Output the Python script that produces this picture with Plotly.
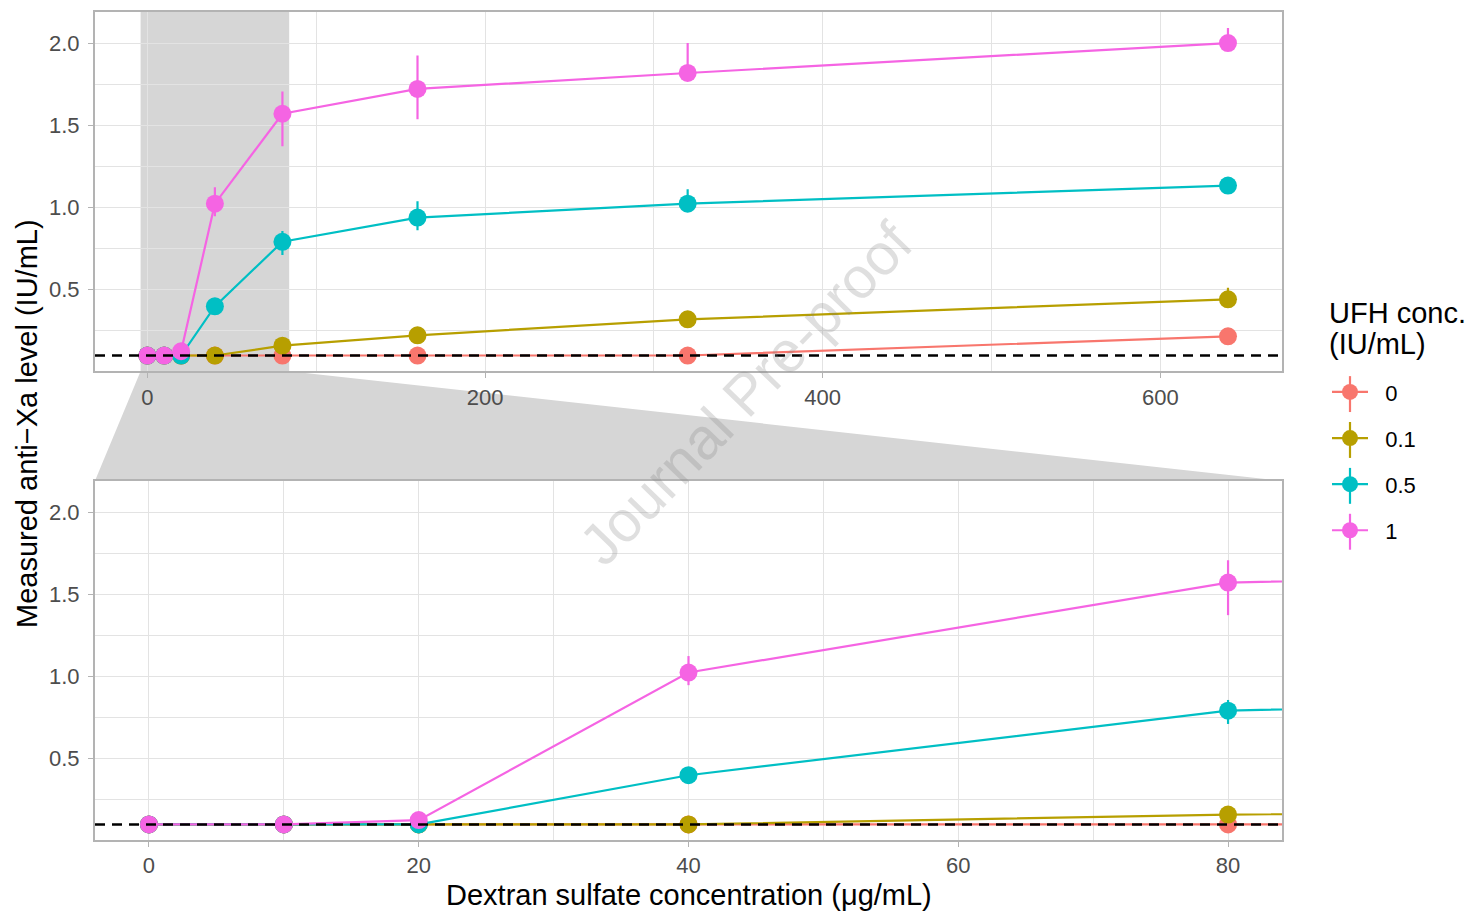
import plotly.graph_objects as go

# ---------------- data ----------------
dextran_conc = [0, 10, 20, 40, 80, 160, 320, 640]
ufh_labels = ["0", "0.1", "0.5", "1"]
ufh_colors = ["#F8766D", "#B79F00", "#00BFC4", "#F564E3"]

axa_ufh_0 = [0.10, 0.10, 0.10, 0.10, 0.10, 0.10, 0.10, 0.217]
axa_ufh_01 = [0.10, 0.10, 0.10, 0.10, 0.16, 0.223, 0.32, 0.442]
axa_ufh_05 = [0.10, 0.10, 0.10, 0.399, 0.792, 0.939, 1.024, 1.134]
axa_ufh_1 = [0.10, 0.10, 0.126, 1.024, 1.571, 1.722, 1.819, 2.001]

err_up_ufh_0 = [0, 0, 0, 0, 0, 0, 0, 0]
err_dn_ufh_0 = [0, 0, 0, 0, 0, 0, 0, 0]
err_up_ufh_01 = [0, 0, 0, 0, 0, 0, 0, 0.07]
err_dn_ufh_01 = [0, 0, 0, 0, 0, 0, 0, 0.03]
err_up_ufh_05 = [0, 0, 0, 0, 0.065, 0.10, 0.087, 0]
err_dn_ufh_05 = [0, 0, 0, 0, 0.081, 0.077, 0.03, 0]
err_up_ufh_1 = [0, 0, 0, 0.10, 0.136, 0.204, 0.182, 0.091]
err_dn_ufh_1 = [0, 0, 0, 0.077, 0.198, 0.184, 0.03, 0.03]

lod_level = 0.1  # dashed reference line

series_values = [axa_ufh_0, axa_ufh_01, axa_ufh_05, axa_ufh_1]
series_err_up = [err_up_ufh_0, err_up_ufh_01, err_up_ufh_05, err_up_ufh_1]
series_err_dn = [err_dn_ufh_0, err_dn_ufh_01, err_dn_ufh_05, err_dn_ufh_1]

top_x_ticks = [0, 200, 400, 600]
zoom_x_ticks = [0, 20, 40, 60, 80]
y_ticks = [0.5, 1.0, 1.5, 2.0]
y_tick_text = ["0.5", "1.0", "1.5", "2.0"]

# ---------------- layout constants ----------------
W, H = 1469, 912
ML, MR, MT, MB = 95, 187, 10, 72
PW, PH = W - ML - MR, H - MT - MB
TOP_X_RANGE = [-31, 672]
ZOOM_X_RANGE = [-4, 84]
Y_RANGE = [0.005, 2.19]
TOP_DOMAIN = [470 / PH, 1.0]
BOT_DOMAIN = [0.0, 360 / PH]

FONT = "Liberation Sans, Arial, sans-serif"
TICK_FONT = dict(family=FONT, size=22, color="#4D4D4D")
TITLE_SIZE = 29
GRID = "#E3E3E3"
BORDER = "#B3B3B3"
ZOOM_FILL = "#D6D6D6"
LEGEND_PAD = "\u00a0\u00a0"
LEGEND_TOP_PX = 370
LEGEND_KEY_X_PX = 1350
LEGEND_FIRST_Y_PX = 393
LEGEND_STEP_PX = 46


def px_x(px):
    return (px - ML) / PW


def px_y(py):
    return (H - MB - py) / PH


fig = go.Figure()

for panel, (xa, ya) in enumerate([("x", "y"), ("x2", "y2")]):
    for lab, col, vals, eu, ed in zip(ufh_labels, ufh_colors, series_values,
                                      series_err_up, series_err_dn):
        fig.add_trace(go.Scatter(
            x=dextran_conc, y=vals, xaxis=xa, yaxis=ya,
            mode="lines+markers", name=LEGEND_PAD + lab, legendgroup=lab,
            showlegend=(panel == 0),
            line=dict(color=col, width=2.2),
            marker=dict(color=col, size=18),
            error_y=dict(type="data", symmetric=False, array=eu, arrayminus=ed,
                         color=col, thickness=2.2, width=0),
        ))

axis_common = dict(
    showline=True, mirror=True, linecolor=BORDER, linewidth=2,
    ticks="outside", ticklen=5, tickcolor=BORDER, tickwidth=1,
    tickfont=TICK_FONT, showgrid=True, gridcolor=GRID, gridwidth=1,
    zeroline=False,
)

fig.update_layout(
    width=W, height=H,
    margin=dict(l=ML, r=MR, t=MT, b=MB),
    paper_bgcolor="white", plot_bgcolor="white",
    font=dict(family=FONT, color="black"),
    xaxis=dict(domain=[0, 1], anchor="y", range=TOP_X_RANGE,
               tickvals=top_x_ticks,
               minor=dict(dtick=100, tick0=0, showgrid=True, gridcolor=GRID, gridwidth=0.6, ticks=""),
               **axis_common),
    yaxis=dict(domain=TOP_DOMAIN, anchor="x", range=Y_RANGE,
               tickvals=y_ticks, ticktext=y_tick_text, ticklabelstandoff=4,
               minor=dict(dtick=0.25, tick0=0, showgrid=True, gridcolor=GRID, gridwidth=0.6, ticks=""),
               **axis_common),
    xaxis2=dict(domain=[0, 1], anchor="y2", range=ZOOM_X_RANGE,
                tickvals=zoom_x_ticks,
                minor=dict(dtick=10, tick0=0, showgrid=True, gridcolor=GRID, gridwidth=0.6, ticks=""),
                **axis_common),
    yaxis2=dict(domain=BOT_DOMAIN, anchor="x2", range=Y_RANGE,
                tickvals=y_ticks, ticktext=y_tick_text, ticklabelstandoff=4,
                minor=dict(dtick=0.25, tick0=0, showgrid=True, gridcolor=GRID, gridwidth=0.6, ticks=""),
                **axis_common),
    legend=dict(
        x=px_x(1327), y=px_y(LEGEND_TOP_PX), xanchor="left", yanchor="top",
        font=dict(family=FONT, size=22, color="black"),
        tracegroupgap=14.5, itemwidth=36, bgcolor="rgba(0,0,0,0)",
    ),
)

# legend title (two lines, ggplot-like tight leading)
fig.add_annotation(text="UFH conc.", xref="paper", yref="paper",
                   x=px_x(1327), y=px_y(312), xanchor="left", yanchor="middle",
                   align="left", showarrow=False,
                   font=dict(family=FONT, size=TITLE_SIZE, color="black"))
fig.add_annotation(text="(IU/mL)", xref="paper", yref="paper",
                   x=px_x(1327), y=px_y(343), xanchor="left", yanchor="middle",
                   align="left", showarrow=False,
                   font=dict(family=FONT, size=TITLE_SIZE, color="black"))

# vertical error-bar stroke of the pointrange legend keys
for i, col in enumerate(ufh_colors):
    cy = LEGEND_FIRST_Y_PX + i * LEGEND_STEP_PX
    fig.add_shape(type="line", xref="paper", yref="paper",
                  x0=px_x(LEGEND_KEY_X_PX), x1=px_x(LEGEND_KEY_X_PX),
                  y0=px_y(cy - 18), y1=px_y(cy + 18),
                  line=dict(color=col, width=2.2), layer="above")

# zoom indicator: band on top panel + connecting trapezoid
fig.add_shape(type="rect", xref="x", yref="y domain",
              x0=ZOOM_X_RANGE[0], x1=ZOOM_X_RANGE[1], y0=0, y1=1,
              fillcolor=ZOOM_FILL, line=dict(width=0), layer="below")
span = TOP_X_RANGE[1] - TOP_X_RANGE[0]
px0 = (ZOOM_X_RANGE[0] - TOP_X_RANGE[0]) / span
px1 = (ZOOM_X_RANGE[1] - TOP_X_RANGE[0]) / span
yt, yb = TOP_DOMAIN[0], BOT_DOMAIN[1]
fig.add_shape(type="path", xref="paper", yref="paper",
              path=f"M {px0},{yt} L {px1},{yt} L 1,{yb} L 0,{yb} Z",
              fillcolor=ZOOM_FILL, line=dict(width=0), layer="below")

# dashed reference line in both panels
for xr, yr in [("x domain", "y"), ("x2 domain", "y2")]:
    fig.add_shape(type="line", xref=xr, yref=yr, x0=0, x1=1, y0=lod_level, y1=lod_level,
                  line=dict(color="black", width=2.5, dash="10px,7px"), layer="above")

# axis titles
fig.add_annotation(text="Measured anti\u2212Xa level (IU/mL)", xref="paper", yref="paper",
                   x=px_x(27), y=px_y(423), textangle=-90,
                   xanchor="center", yanchor="middle",
                   showarrow=False, font=dict(family=FONT, size=TITLE_SIZE, color="black"))
fig.add_annotation(text="Dextran sulfate concentration (\u03bcg/mL)", xref="paper", yref="paper",
                   x=0.5, y=px_y(895), xanchor="center", yanchor="middle",
                   showarrow=False,
                   font=dict(family=FONT, size=TITLE_SIZE, color="black"))

# watermark
fig.add_annotation(text="Journal Pre-proof", xref="paper", yref="paper",
                   x=px_x(745), y=px_y(392), textangle=-46,
                   xanchor="center", yanchor="middle", showarrow=False,
                   font=dict(family=FONT, size=58, color="rgba(128,128,128,0.25)"))

fig.write_html("out.html", config={"displayModeBar": False},
               post_script="document.body.style.margin='0';document.body.style.overflow='hidden';")
